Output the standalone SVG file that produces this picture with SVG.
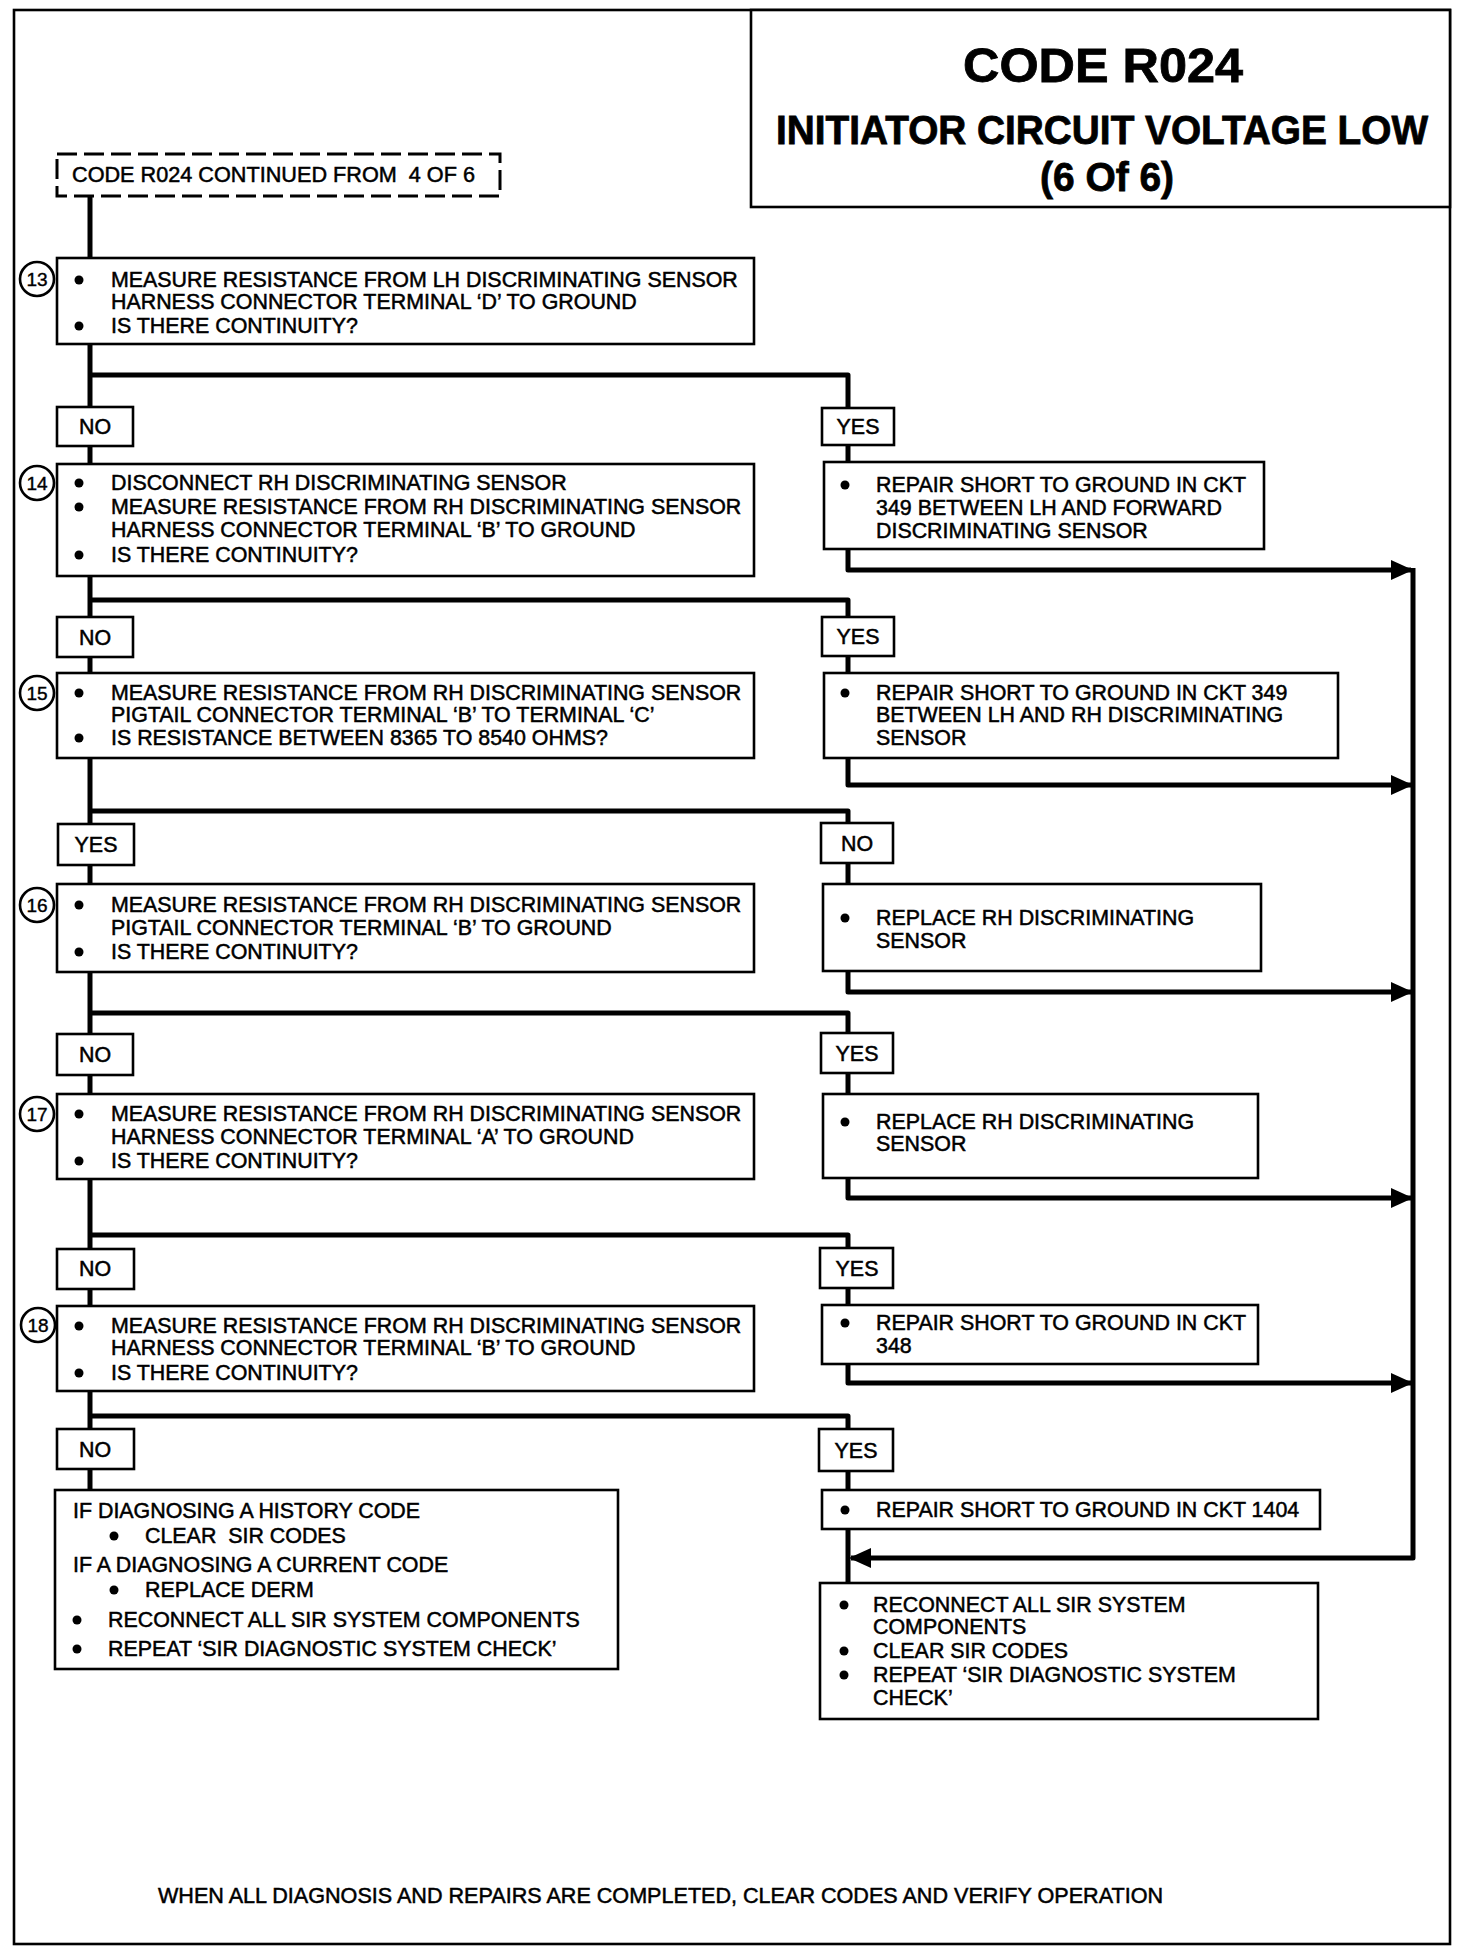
<svg xmlns="http://www.w3.org/2000/svg" width="1472" height="1954" viewBox="0 0 1472 1954">
<defs>
<style>
.box{fill:#fff;stroke:#000;stroke-width:2.6}
.dash{fill:#fff;stroke:#000;stroke-width:3;stroke-dasharray:20 7}
.con{fill:none;stroke:#000;stroke-width:5;stroke-linejoin:round}
.num{fill:#fff;stroke:#000;stroke-width:2.6}
text{font-family:"Liberation Sans",Arial,Helvetica,sans-serif;fill:#000;white-space:pre}
.t{font-size:21.4px;stroke:#000;stroke-width:0.5}
.c{text-anchor:middle}
.n{font-size:19px;text-anchor:middle;stroke:#000;stroke-width:0.4}
.h{font-weight:bold;text-anchor:middle;stroke:#000;stroke-width:0.8}
</style>
<marker id="arr" markerUnits="userSpaceOnUse" markerWidth="22" markerHeight="22" viewBox="0 0 22 22" refX="20" refY="11" orient="auto">
<path d="M0,1 L22,11 L0,21 Z" fill="#000"/>
</marker>
</defs>
<rect width="1472" height="1954" fill="#fff"/>
<rect x="14" y="10" width="1436" height="1934" fill="none" stroke="#000" stroke-width="2.6"/>

<g id="title">
<rect x="751" y="10" width="699" height="197" class="box"/>
<text x="1103" y="82" class="h" font-size="48" textLength="280" lengthAdjust="spacingAndGlyphs">CODE R024</text>
<text x="1102" y="144" class="h" font-size="40" textLength="652" lengthAdjust="spacingAndGlyphs">INITIATOR CIRCUIT VOLTAGE LOW</text>
<text x="1107" y="191" class="h" font-size="40" textLength="134" lengthAdjust="spacingAndGlyphs">(6 Of 6)</text>
</g>

<g id="connectors">
<path class="con" d="M90,196 V258"/>
<path class="con" d="M90,344 V407"/>
<path class="con" d="M90,375 H848 V408"/>
<path class="con" d="M90,446 V464"/>
<path class="con" d="M848,445 V462"/>
<path class="con" d="M848,549 V570 H1411" marker-end="url(#arr)"/>
<path class="con" d="M90,576 V617"/>
<path class="con" d="M90,600 H848 V617"/>
<path class="con" d="M90,657 V673"/>
<path class="con" d="M848,656 V673"/>
<path class="con" d="M848,758 V785 H1411" marker-end="url(#arr)"/>
<path class="con" d="M90,758 V824"/>
<path class="con" d="M90,811 H848 V823"/>
<path class="con" d="M90,865 V884"/>
<path class="con" d="M848,863 V884"/>
<path class="con" d="M848,971 V992 H1411" marker-end="url(#arr)"/>
<path class="con" d="M90,972 V1034"/>
<path class="con" d="M90,1013 H848 V1033"/>
<path class="con" d="M90,1075 V1094"/>
<path class="con" d="M848,1073 V1094"/>
<path class="con" d="M848,1178 V1198 H1411" marker-end="url(#arr)"/>
<path class="con" d="M90,1179 V1249"/>
<path class="con" d="M90,1235 H848 V1248"/>
<path class="con" d="M90,1289 V1306"/>
<path class="con" d="M848,1288 V1305"/>
<path class="con" d="M848,1364 V1383 H1411" marker-end="url(#arr)"/>
<path class="con" d="M90,1391 V1429"/>
<path class="con" d="M90,1416 H848 V1429"/>
<path class="con" d="M90,1469 V1490"/>
<path class="con" d="M848,1471 V1490"/>
<path class="con" d="M848,1529 V1583"/>
<path class="con" d="M1413,568 V1558 H851" marker-end="url(#arr)"/>
</g>

<g id="start">
<rect x="57" y="154" width="443" height="42" class="dash"/>
<text x="72" y="182" class="t" textLength="403" lengthAdjust="spacingAndGlyphs">CODE R024 CONTINUED FROM  4 OF 6</text>
</g>

<g id="step13">
<rect x="57" y="258" width="697" height="86" class="box"/>
<circle cx="37" cy="279" r="17" class="num"/><text x="37" y="286" class="n">13</text>
<circle cx="79" cy="280" r="4.5"/><text x="111" y="287" class="t">MEASURE RESISTANCE FROM LH DISCRIMINATING SENSOR</text>
<text x="111" y="309" class="t">HARNESS CONNECTOR TERMINAL ‘D’ TO GROUND</text>
<circle cx="79" cy="326" r="4.5"/><text x="111" y="333" class="t">IS THERE CONTINUITY?</text>
</g>

<g id="no13"><rect x="57" y="407" width="76" height="39" class="box"/><text x="95" y="434" class="t c">NO</text></g>
<g id="yes13"><rect x="822" y="408" width="72" height="37" class="box"/><text x="858" y="434" class="t c">YES</text></g>

<g id="step14">
<rect x="57" y="464" width="697" height="112" class="box"/>
<circle cx="37" cy="483" r="17" class="num"/><text x="37" y="490" class="n">14</text>
<circle cx="79" cy="483" r="4.5"/><text x="111" y="490" class="t">DISCONNECT RH DISCRIMINATING SENSOR</text>
<circle cx="79" cy="507" r="4.5"/><text x="111" y="514" class="t">MEASURE RESISTANCE FROM RH DISCRIMINATING SENSOR</text>
<text x="111" y="537" class="t">HARNESS CONNECTOR TERMINAL ‘B’ TO GROUND</text>
<circle cx="79" cy="555" r="4.5"/><text x="111" y="562" class="t">IS THERE CONTINUITY?</text>
</g>

<g id="repair349a">
<rect x="824" y="462" width="440" height="87" class="box"/>
<circle cx="845" cy="485" r="4.5"/><text x="876" y="492" class="t">REPAIR SHORT TO GROUND IN CKT</text>
<text x="876" y="515" class="t">349 BETWEEN LH AND FORWARD</text>
<text x="876" y="538" class="t">DISCRIMINATING SENSOR</text>
</g>

<g id="no14"><rect x="57" y="617" width="76" height="40" class="box"/><text x="95" y="645" class="t c">NO</text></g>
<g id="yes14"><rect x="822" y="617" width="72" height="39" class="box"/><text x="858" y="644" class="t c">YES</text></g>

<g id="step15">
<rect x="57" y="673" width="697" height="85" class="box"/>
<circle cx="37" cy="693" r="17" class="num"/><text x="37" y="700" class="n">15</text>
<circle cx="79" cy="693" r="4.5"/><text x="111" y="700" class="t">MEASURE RESISTANCE FROM RH DISCRIMINATING SENSOR</text>
<text x="111" y="722" class="t">PIGTAIL CONNECTOR TERMINAL ‘B’ TO TERMINAL ‘C’</text>
<circle cx="79" cy="738" r="4.5"/><text x="111" y="745" class="t">IS RESISTANCE BETWEEN 8365 TO 8540 OHMS?</text>
</g>

<g id="repair349b">
<rect x="824" y="673" width="514" height="85" class="box"/>
<circle cx="845" cy="693" r="4.5"/><text x="876" y="700" class="t">REPAIR SHORT TO GROUND IN CKT 349</text>
<text x="876" y="722" class="t">BETWEEN LH AND RH DISCRIMINATING</text>
<text x="876" y="745" class="t">SENSOR</text>
</g>

<g id="yes15"><rect x="58" y="824" width="76" height="41" class="box"/><text x="96" y="852" class="t c">YES</text></g>
<g id="no15"><rect x="821" y="823" width="72" height="40" class="box"/><text x="857" y="851" class="t c">NO</text></g>

<g id="step16">
<rect x="57" y="884" width="697" height="88" class="box"/>
<circle cx="37" cy="905" r="17" class="num"/><text x="37" y="912" class="n">16</text>
<circle cx="79" cy="905" r="4.5"/><text x="111" y="912" class="t">MEASURE RESISTANCE FROM RH DISCRIMINATING SENSOR</text>
<text x="111" y="935" class="t">PIGTAIL CONNECTOR TERMINAL ‘B’ TO GROUND</text>
<circle cx="79" cy="952" r="4.5"/><text x="111" y="959" class="t">IS THERE CONTINUITY?</text>
</g>

<g id="replace1">
<rect x="823" y="884" width="438" height="87" class="box"/>
<circle cx="845" cy="918" r="4.5"/><text x="876" y="925" class="t">REPLACE RH DISCRIMINATING</text>
<text x="876" y="948" class="t">SENSOR</text>
</g>

<g id="no16"><rect x="57" y="1034" width="76" height="41" class="box"/><text x="95" y="1062" class="t c">NO</text></g>
<g id="yes16"><rect x="821" y="1033" width="72" height="40" class="box"/><text x="857" y="1061" class="t c">YES</text></g>

<g id="step17">
<rect x="57" y="1094" width="697" height="85" class="box"/>
<circle cx="37" cy="1114" r="17" class="num"/><text x="37" y="1121" class="n">17</text>
<circle cx="79" cy="1114" r="4.5"/><text x="111" y="1121" class="t">MEASURE RESISTANCE FROM RH DISCRIMINATING SENSOR</text>
<text x="111" y="1144" class="t">HARNESS CONNECTOR TERMINAL ‘A’ TO GROUND</text>
<circle cx="79" cy="1161" r="4.5"/><text x="111" y="1168" class="t">IS THERE CONTINUITY?</text>
</g>

<g id="replace2">
<rect x="823" y="1094" width="435" height="84" class="box"/>
<circle cx="845" cy="1122" r="4.5"/><text x="876" y="1129" class="t">REPLACE RH DISCRIMINATING</text>
<text x="876" y="1151" class="t">SENSOR</text>
</g>

<g id="no17"><rect x="57" y="1249" width="77" height="40" class="box"/><text x="95" y="1276" class="t c">NO</text></g>
<g id="yes17"><rect x="820" y="1248" width="73" height="40" class="box"/><text x="857" y="1276" class="t c">YES</text></g>

<g id="step18">
<rect x="57" y="1306" width="697" height="85" class="box"/>
<circle cx="38" cy="1325" r="17" class="num"/><text x="38" y="1332" class="n">18</text>
<circle cx="79" cy="1326" r="4.5"/><text x="111" y="1333" class="t">MEASURE RESISTANCE FROM RH DISCRIMINATING SENSOR</text>
<text x="111" y="1355" class="t">HARNESS CONNECTOR TERMINAL ‘B’ TO GROUND</text>
<circle cx="79" cy="1373" r="4.5"/><text x="111" y="1380" class="t">IS THERE CONTINUITY?</text>
</g>

<g id="repair348">
<rect x="822" y="1305" width="436" height="59" class="box"/>
<circle cx="845" cy="1323" r="4.5"/><text x="876" y="1330" class="t">REPAIR SHORT TO GROUND IN CKT</text>
<text x="876" y="1353" class="t">348</text>
</g>

<g id="no18"><rect x="57" y="1429" width="77" height="40" class="box"/><text x="95" y="1457" class="t c">NO</text></g>
<g id="yes18"><rect x="819" y="1429" width="74" height="42" class="box"/><text x="856" y="1458" class="t c">YES</text></g>

<g id="finalLeft">
<rect x="55" y="1490" width="563" height="179" class="box"/>
<text x="73" y="1518" class="t">IF DIAGNOSING A HISTORY CODE</text>
<circle cx="114" cy="1536" r="4.5"/><text x="145" y="1543" class="t">CLEAR  SIR CODES</text>
<text x="73" y="1572" class="t">IF A DIAGNOSING A CURRENT CODE</text>
<circle cx="114" cy="1590" r="4.5"/><text x="145" y="1597" class="t">REPLACE DERM</text>
<circle cx="77" cy="1620" r="4.5"/><text x="108" y="1627" class="t">RECONNECT ALL SIR SYSTEM COMPONENTS</text>
<circle cx="77" cy="1649" r="4.5"/><text x="108" y="1656" class="t">REPEAT ‘SIR DIAGNOSTIC SYSTEM CHECK’</text>
</g>

<g id="repair1404">
<rect x="822" y="1490" width="498" height="39" class="box"/>
<circle cx="845" cy="1510" r="4.5"/><text x="876" y="1517" class="t">REPAIR SHORT TO GROUND IN CKT 1404</text>
</g>

<g id="finalRight">
<rect x="820" y="1583" width="498" height="136" class="box"/>
<circle cx="844" cy="1605" r="4.5"/><text x="873" y="1612" class="t">RECONNECT ALL SIR SYSTEM</text>
<text x="873" y="1634" class="t">COMPONENTS</text>
<circle cx="844" cy="1651" r="4.5"/><text x="873" y="1658" class="t">CLEAR SIR CODES</text>
<circle cx="844" cy="1675" r="4.5"/><text x="873" y="1682" class="t">REPEAT ‘SIR DIAGNOSTIC SYSTEM</text>
<text x="873" y="1705" class="t">CHECK’</text>
</g>

<g id="footer">
<text x="158" y="1903" class="t" textLength="1005" lengthAdjust="spacingAndGlyphs">WHEN ALL DIAGNOSIS AND REPAIRS ARE COMPLETED, CLEAR CODES AND VERIFY OPERATION</text>
</g>
</svg>
